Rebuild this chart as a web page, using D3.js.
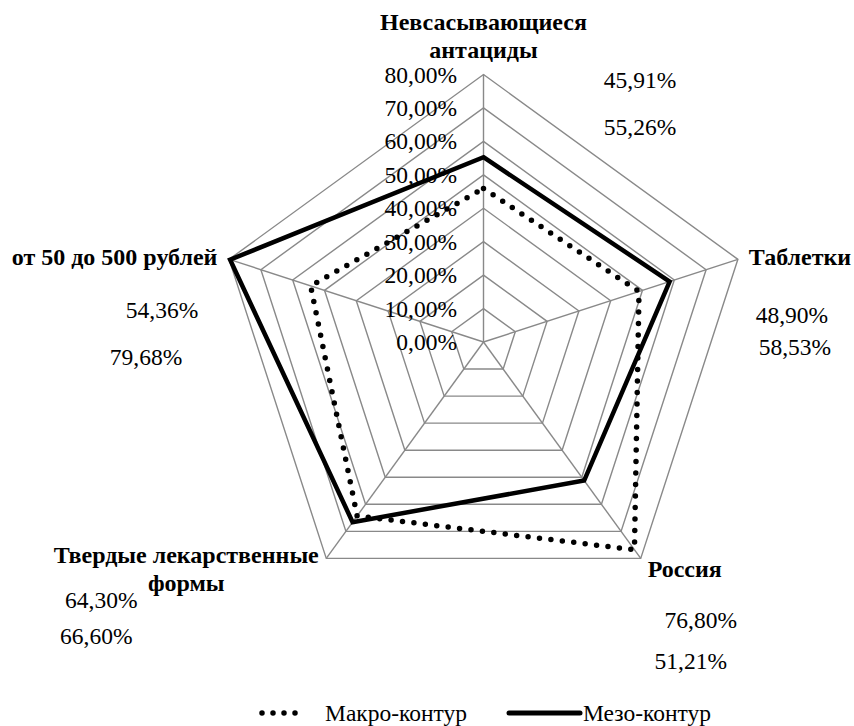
<!DOCTYPE html>
<html><head><meta charset="utf-8">
<script src="https://cdn.jsdelivr.net/npm/d3@7/dist/d3.min.js"></script>
</head><body style="margin:0">
<script>
const categories = ["Невсасывающиеся антациды", "Таблетки", "Россия", "Твердые лекарственные формы", "от 50 до 500 рублей"];
const seriesNames = ["Макро-контур", "Мезо-контур"];
const macroValues = [45.91, 48.90, 76.80, 64.30, 54.36];
const mesoValues = [55.26, 58.53, 51.21, 66.60, 79.68];
const ticks = [0, 10, 20, 30, 40, 50, 60, 70, 80];

// layout (positions of labels, relative to each axis' outer vertex)
const catLabelPos = [[0, -52], [62, -1], [44, 12], [-140, -2], [-114.5, -1]];
const catLabelLines = [["Невсасывающиеся", "антациды"], ["Таблетки"], ["Россия"], ["Твердые лекарственные", "формы"], ["от 50 до 500 рублей"]];
const valLabelPos = [
  [[156.5, 5.5], [156.5, 52.5]],
  [[54, 56], [57, 88]],
  [[60, 62], [50, 103]],
  [[-225, 42], [-230, 78]],
  [[-67, 51], [-83, 98]]
];

const FONT = "Liberation Serif";
const FS = 23.5, FSB = 24;
const W = 854, H = 726, cx = 483.5, cy = 342, R = 267.5;
const svg = d3.select("body").append("svg").attr("width", W).attr("height", H).style("display", "block");
const r = d3.scaleLinear().domain([0, 80]).range([0, R]);
const n = categories.length;
const ang = i => -Math.PI / 2 + i * 2 * Math.PI / n;
const pt = (i, v) => [cx + r(v) * Math.cos(ang(i)), cy + r(v) * Math.sin(ang(i))];
const fmt = v => d3.format(".2f")(v).replace(".", ",") + "%";
const txt = (sel) => sel.append("text").attr("font-family", FONT).style("font-family", FONT);

// grid rings
const g = svg.append("g");
ticks.slice(1).forEach(t => {
  g.append("polygon").attr("points", d3.range(n).map(i => pt(i, t).join(",")).join(" "))
    .attr("fill", "none").attr("stroke", "#898989").attr("stroke-width", 1.4);
});
d3.range(n).forEach(i => {
  const p = pt(i, 80);
  g.append("line").attr("x1", cx).attr("y1", cy).attr("x2", p[0]).attr("y2", p[1])
    .attr("stroke", "#898989").attr("stroke-width", 1.4);
});

// series
const line = d3.line().curve(d3.curveLinearClosed);
svg.append("path").attr("d", line(macroValues.map((v, i) => pt(i, v))))
  .attr("fill", "none").attr("stroke", "#000").attr("stroke-width", 5.5)
  .attr("stroke-linecap", "round").attr("stroke-dasharray", "0 11.5");
svg.append("path").attr("d", line(mesoValues.map((v, i) => pt(i, v))))
  .attr("fill", "none").attr("stroke", "#000").attr("stroke-width", 4.5)
  .attr("stroke-linejoin", "miter");

// tick labels
ticks.forEach(t => {
  txt(svg).attr("x", 457).attr("y", cy - r(t) + 8)
    .attr("text-anchor", "end").attr("font-size", FS).text(fmt(t));
});

// category labels
categories.forEach((c, i) => {
  const p = pt(i, 80);
  const lines = catLabelLines[i];
  const lh = 28;
  lines.forEach((ln, k) => {
    txt(svg).attr("x", p[0] + catLabelPos[i][0])
      .attr("y", p[1] + catLabelPos[i][1] + k * lh + 7)
      .attr("text-anchor", "middle").attr("font-size", FSB).attr("font-weight", "bold").text(ln);
  });
});

// value labels
[macroValues, mesoValues].forEach((vals, s) => {
  vals.forEach((v, i) => {
    const p = pt(i, 80);
    txt(svg).attr("x", p[0] + valLabelPos[i][s][0]).attr("y", p[1] + valLabelPos[i][s][1] + 8)
      .attr("text-anchor", "middle").attr("font-size", FS).text(fmt(v));
  });
});

// legend
const ly = 713;
const lg = svg.append("g");
lg.append("line").attr("x1", 262).attr("x2", 306).attr("y1", ly).attr("y2", ly)
  .attr("stroke", "#000").attr("stroke-width", 5.5).attr("stroke-linecap", "round").attr("stroke-dasharray", "0 11");
txt(lg).attr("x", 325).attr("y", ly + 8).attr("font-size", FS).text(seriesNames[0]);
lg.append("line").attr("x1", 509).attr("x2", 580).attr("y1", ly).attr("y2", ly)
  .attr("stroke", "#000").attr("stroke-width", 5).attr("stroke-linecap", "round");
txt(lg).attr("x", 583).attr("y", ly + 8).attr("font-size", FS).text(seriesNames[1]);
</script>
</body></html>
